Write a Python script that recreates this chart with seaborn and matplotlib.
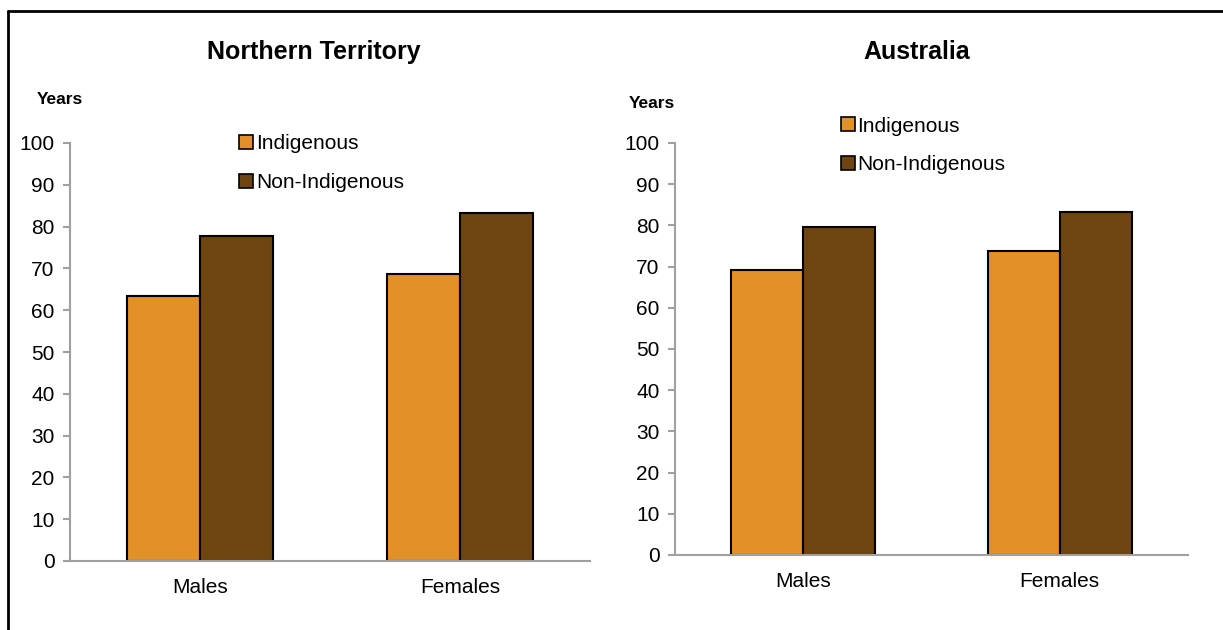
import pandas as pd
import numpy as np
import seaborn as sns
import matplotlib.pyplot as plt
from matplotlib.lines import Line2D

sns.set_style("white")
plt.rcParams['font.family'] = ['Liberation Sans', 'DejaVu Sans']
plt.rcParams['text.color'] = 'black'
plt.rcParams['xtick.labelcolor'] = 'black'
plt.rcParams['ytick.labelcolor'] = 'black'

sexes = ["Males", "Females"]
groups = ["Indigenous", "Non-Indigenous"]
nt_indigenous = [63.5, 68.7]
nt_non_indigenous = [77.8, 83.2]
aus_indigenous = [69.1, 73.7]
aus_non_indigenous = [79.7, 83.2]

colors = {"Indigenous": "#E29028", "Non-Indigenous": "#6E4410"}
axis_grey = "#A0A0A0"


def make_df(ind, non):
    return pd.DataFrame({
        "Sex": sexes * 2,
        "Group": [groups[0]] * 2 + [groups[1]] * 2,
        "Years": ind + non,
    })


fig = plt.figure(figsize=(12.23, 6.3), dpi=100)

panels = [
    ("Northern Territory", make_df(nt_indigenous, nt_non_indigenous),
     [70 / 1223, 69 / 630, 520 / 1223, 418 / 630], (0.19, 0.80), 314),
    ("Australia", make_df(aus_indigenous, aus_non_indigenous),
     [675 / 1223, 75 / 630, 513 / 1223, 412 / 630], (0.6815, 0.828), 917),
]

for title, df, rect, leg_pos, title_x in panels:
    ax = fig.add_axes(rect)
    sns.barplot(data=df, x="Sex", y="Years", hue="Group", palette=colors,
                width=0.56, saturation=1, edgecolor="black", linewidth=1.5,
                ax=ax, legend=False)
    ax.set_ylim(0, 100)
    ax.set_xlim(-0.5, 1.5)
    ax.set_yticks(np.arange(0, 101, 10))
    ax.set_xlabel("")
    ax.set_ylabel("")
    for s in ["top", "right"]:
        ax.spines[s].set_visible(False)
    for s in ["left", "bottom"]:
        ax.spines[s].set_color(axis_grey)
        ax.spines[s].set_linewidth(1.5)
    ax.tick_params(axis="y", left=True, length=5, width=1.5, color=axis_grey,
                   labelsize=15, pad=6)
    ax.tick_params(axis="x", bottom=False, labelsize=15, pad=9)

    handles = [Line2D([0], [0], marker="s", linestyle="none", markersize=9.5,
                      markerfacecolor=colors[g], markeredgecolor="black",
                      markeredgewidth=1.2) for g in groups]
    fig.legend(handles, groups, loc="upper left", bbox_to_anchor=leg_pos,
               frameon=False, fontsize=15, handlelength=0.55,
               handletextpad=0.2, labelspacing=0.95, borderaxespad=0)

    fig.text(title_x / 1223, 1 - 52 / 630, title, ha="center", va="center",
             fontsize=18, fontweight="bold")

fig.text(37 / 1223, 1 - 99 / 630, "Years", ha="left", va="center",
         fontsize=12.5, fontweight="bold")
fig.text(629 / 1223, 1 - 103 / 630, "Years", ha="left", va="center",
         fontsize=12.5, fontweight="bold")

# outer frame (top and left edges)
fig.add_artist(Line2D([8 / 1223, 1], [1 - 11 / 630, 1 - 11 / 630],
                      color="black", linewidth=2, transform=fig.transFigure))
fig.add_artist(Line2D([8 / 1223, 8 / 1223], [0, 1 - 11 / 630],
                      color="black", linewidth=2, transform=fig.transFigure))

fig.savefig("out.png", dpi=100)
